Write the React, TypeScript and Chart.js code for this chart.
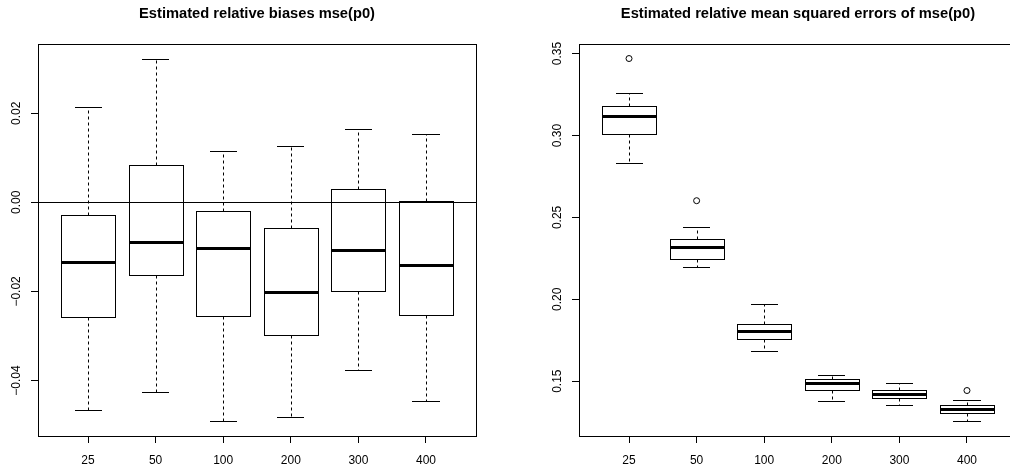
import React, { useEffect, useRef } from 'react';
import { Chart, registerables } from 'chart.js';

Chart.register(...registerables);

// ---------- data ----------
const categories = ['25', '50', '100', '200', '300', '400'];

// Left panel: estimated relative biases
const biasTitle = 'Estimated relative biases mse(p0)';
const biasLower = [-0.0467, -0.0425, -0.0492, -0.0483, -0.0376, -0.0445];
const biasQ1 = [-0.0258, -0.0162, -0.0256, -0.0297, -0.0199, -0.0252];
const biasMedian = [-0.0135, -0.0088, -0.0103, -0.0202, -0.0106, -0.014];
const biasQ3 = [-0.0028, 0.0083, -0.0019, -0.0057, 0.0031, 0.0004];
const biasUpper = [0.0214, 0.0323, 0.0116, 0.0127, 0.0165, 0.0153];
const biasOutlierGroup: string[] = [];
const biasOutlierValue: number[] = [];
const biasYTicks = [-0.04, -0.02, 0, 0.02];
const biasYTickLabels = ['\u22120.04', '\u22120.02', '0.00', '0.02'];
const biasRefLine = 0;

// Right panel: estimated relative mean squared errors
const mseTitle = 'Estimated relative mean squared errors of mse(p0)';
const mseLower = [0.2831, 0.2199, 0.1685, 0.138, 0.1352, 0.1254];
const mseQ1 = [0.3012, 0.2246, 0.1758, 0.1449, 0.1398, 0.1305];
const mseMedian = [0.3118, 0.2321, 0.1807, 0.1488, 0.1423, 0.1329];
const mseQ3 = [0.3179, 0.2366, 0.1852, 0.1512, 0.1447, 0.1352];
const mseUpper = [0.326, 0.2443, 0.1974, 0.1535, 0.1488, 0.1386];
const mseOutlierGroup = ['25', '50', '400'];
const mseOutlierValue = [0.347, 0.2602, 0.1443];
const mseYTicks = [0.15, 0.2, 0.25, 0.3, 0.35];
const mseYTickLabels = ['0.15', '0.20', '0.25', '0.30', '0.35'];

const FONT = '"Liberation Sans", Arial, Helvetica, sans-serif';

type PanelProps = {
  title: string;
  lower: number[];
  q1: number[];
  median: number[];
  q3: number[];
  upper: number[];
  outGroup: string[];
  outValue: number[];
  yTicks: number[];
  yTickLabels: string[];
  refLine?: number;
  canvasWidth: number;
  canvasHeight: number;
  yAxisWidth: number;
  rightPad: number;
};

function Panel(p: PanelProps) {
  const ref = useRef<HTMLCanvasElement | null>(null);

  useEffect(() => {
    const canvas = ref.current;
    if (!canvas) return;

    const allVals = [...p.lower, ...p.upper, ...p.outValue];
    const lo = Math.min(...allVals);
    const hi = Math.max(...allVals);
    const ext = (hi - lo) * 0.04;
    const n = categories.length;
    const xExt = n * 0.04;

    const boxPlugin = {
      id: 'rboxplot',
      beforeDatasetsDraw(chart: any) {
        const { ctx, scales } = chart;
        const x = scales.x;
        const y = scales.y;
        const a = (v: number) => Math.round(v) + 0.5;
        ctx.save();
        ctx.strokeStyle = '#000';
        for (let i = 0; i < n; i++) {
          const cx = x.getPixelForValue(i + 1);
          const bl = x.getPixelForValue(i + 1 - 0.4);
          const br = x.getPixelForValue(i + 1 + 0.4);
          const sl = x.getPixelForValue(i + 1 - 0.2);
          const sr = x.getPixelForValue(i + 1 + 0.2);
          const yU = y.getPixelForValue(p.upper[i]);
          const yQ3 = y.getPixelForValue(p.q3[i]);
          const yM = y.getPixelForValue(p.median[i]);
          const yQ1 = y.getPixelForValue(p.q1[i]);
          const yL = y.getPixelForValue(p.lower[i]);

          // whiskers (dashed)
          ctx.lineWidth = 1;
          ctx.setLineDash([3, 3]);
          ctx.beginPath();
          ctx.moveTo(a(cx), a(yQ3));
          ctx.lineTo(a(cx), a(yU));
          ctx.moveTo(a(cx), a(yQ1));
          ctx.lineTo(a(cx), a(yL));
          ctx.stroke();

          // staples
          ctx.setLineDash([]);
          ctx.beginPath();
          ctx.moveTo(Math.round(sl), a(yU));
          ctx.lineTo(Math.round(sr), a(yU));
          ctx.moveTo(Math.round(sl), a(yL));
          ctx.lineTo(Math.round(sr), a(yL));
          ctx.stroke();

          // box
          ctx.fillStyle = '#fff';
          const bx = a(bl);
          const bw = Math.round(br) - Math.round(bl);
          const by = a(yQ3);
          const bh = Math.round(yQ1) - Math.round(yQ3);
          ctx.fillRect(bx, by, bw, bh);
          ctx.strokeRect(bx, by, bw, bh);

          // median
          ctx.lineWidth = 3;
          ctx.beginPath();
          ctx.moveTo(Math.round(bl), a(yM));
          ctx.lineTo(Math.round(br) + 1, a(yM));
          ctx.stroke();
        }
        ctx.restore();
      },
      afterDatasetsDraw(chart: any) {
        const { ctx, chartArea, scales } = chart;
        const y = scales.y;
        const a = (v: number) => Math.round(v) + 0.5;
        ctx.save();
        ctx.strokeStyle = '#000';
        ctx.lineWidth = 1;
        ctx.setLineDash([]);
        if (p.refLine !== undefined) {
          const yr = a(y.getPixelForValue(p.refLine));
          ctx.beginPath();
          ctx.moveTo(chartArea.left, yr);
          ctx.lineTo(chartArea.right + 1, yr);
          ctx.stroke();
        }
        // frame
        ctx.strokeRect(
          a(chartArea.left),
          a(chartArea.top),
          Math.round(chartArea.right) - Math.round(chartArea.left),
          Math.round(chartArea.bottom) - Math.round(chartArea.top)
        );
        // y tick labels (rotated, as in R)
        ctx.fillStyle = '#000';
        ctx.font = `12px ${FONT}`;
        ctx.textAlign = 'center';
        ctx.textBaseline = 'middle';
        p.yTicks.forEach((v, k) => {
          const py = y.getPixelForValue(v);
          ctx.save();
          ctx.translate(chartArea.left - 21, py);
          ctx.rotate(-Math.PI / 2);
          ctx.fillText(p.yTickLabels[k], 0, 0);
          ctx.restore();
        });
        // title
        ctx.font = `bold 14.7px ${FONT}`;
        ctx.textAlign = 'center';
        ctx.textBaseline = 'alphabetic';
        ctx.fillText(p.title, (chartArea.left + chartArea.right) / 2, 18);
        ctx.restore();
      },
    };

    const outlierData = p.outGroup.map((g, k) => ({
      x: categories.indexOf(g) + 1,
      y: p.outValue[k],
    }));

    const chart = new Chart(canvas, {
      type: 'scatter',
      data: {
        datasets: [
          {
            data: outlierData,
            pointStyle: 'circle',
            pointRadius: 3,
            pointBorderWidth: 1,
            pointBorderColor: '#000',
            pointBackgroundColor: 'rgba(0,0,0,0)',
          },
        ],
      },
      options: {
        animation: false,
        responsive: false,
        devicePixelRatio: 1,
        layout: { padding: { left: 0, top: 44, right: p.rightPad, bottom: 0 } },
        plugins: {
          legend: { display: false },
          tooltip: { enabled: false },
          title: { display: false },
        },
        scales: {
          x: {
            type: 'linear',
            min: 0.5 - xExt,
            max: n + 0.5 + xExt,
            afterBuildTicks: (s: any) => {
              s.ticks = categories.map((_, i) => ({ value: i + 1 }));
            },
            afterFit: (s: any) => {
              s.height = 37;
            },
            ticks: {
              callback: (v: any) => categories[Number(v) - 1] ?? '',
              color: '#000',
              font: { family: FONT, size: 12 },
              padding: 10,
              maxRotation: 0,
              minRotation: 0,
              autoSkip: false,
            },
            grid: {
              display: true,
              drawOnChartArea: false,
              drawTicks: true,
              tickLength: 7,
              tickColor: '#000',
              tickWidth: 1,
            },
            border: { display: false },
          },
          y: {
            type: 'linear',
            min: lo - ext,
            max: hi + ext,
            afterBuildTicks: (s: any) => {
              s.ticks = p.yTicks.map((v) => ({ value: v }));
            },
            afterFit: (s: any) => {
              s.width = p.yAxisWidth;
            },
            ticks: { display: false },
            grid: {
              display: true,
              drawOnChartArea: false,
              drawTicks: true,
              tickLength: 7,
              tickColor: '#000',
              tickWidth: 1,
            },
            border: { display: false },
          },
        },
      },
      plugins: [boxPlugin],
    } as any);

    return () => chart.destroy();
  }, []);

  return (
    <canvas
      ref={ref}
      width={p.canvasWidth}
      height={p.canvasHeight}
      style={{ display: 'block', width: p.canvasWidth, height: p.canvasHeight }}
    />
  );
}

export default function App() {
  return (
    <div
      style={{
        position: 'fixed',
        left: 0,
        top: 0,
        width: 1010,
        height: 473,
        overflow: 'hidden',
        background: '#fff',
      }}
    >
      <div style={{ position: 'absolute', left: 0, top: 0 }}>
        <Panel
          title={biasTitle}
          lower={biasLower}
          q1={biasQ1}
          median={biasMedian}
          q3={biasQ3}
          upper={biasUpper}
          outGroup={biasOutlierGroup}
          outValue={biasOutlierValue}
          yTicks={biasYTicks}
          yTickLabels={biasYTickLabels}
          refLine={biasRefLine}
          canvasWidth={505}
          canvasHeight={473}
          yAxisWidth={38}
          rightPad={29}
        />
      </div>
      <div style={{ position: 'absolute', left: 505, top: 0 }}>
        <Panel
          title={mseTitle}
          lower={mseLower}
          q1={mseQ1}
          median={mseMedian}
          q3={mseQ3}
          upper={mseUpper}
          outGroup={mseOutlierGroup}
          outValue={mseOutlierValue}
          yTicks={mseYTicks}
          yTickLabels={mseYTickLabels}
          canvasWidth={530}
          canvasHeight={473}
          yAxisWidth={74}
          rightPad={18}
        />
      </div>
    </div>
  );
}
